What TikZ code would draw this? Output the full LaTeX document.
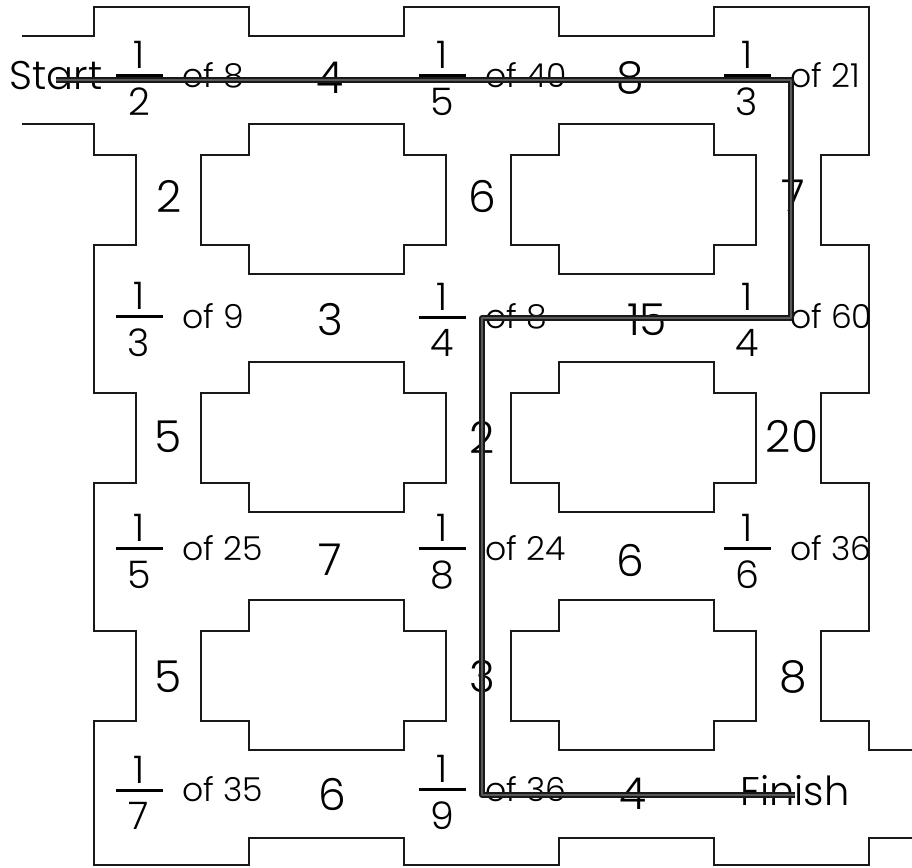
\documentclass[tikz,border=0pt]{standalone}
\usepackage{fontspec}
\setmainfont{Poppins}[UprightFont=* Light]
\usetikzlibrary{positioning}

\newcommand{\frc}[2]{\vbox{\hbox to 47pt{\hss#1\hss}\kern5.5pt\hrule height 3pt\kern10.5pt\hbox to 47pt{\hss#2\hss}}}

\begin{document}
\begin{tikzpicture}[x=1pt,y=-1pt,
    wall/.style={draw=black!90,line width=2pt},
    route/.style={draw=black!90,line width=2pt,double=black!65,double distance=1.2pt,line join=round},
    num/.style={font=\fontsize{44}{48}\selectfont,inner sep=0pt},
    fr/.style={font=\fontsize{38}{40}\selectfont,inner sep=0pt},
    ofn/.style={font=\fontsize{33}{40}\selectfont,inner sep=0pt,anchor=base west},
    word/.style={font=\fontsize{40}{46}\selectfont,inner sep=0pt,anchor=base}]
    \useasboundingbox[fill=white] (0,0) rectangle (912,867);

    \foreach \X in {249,559}
        \foreach \Y in {124,362,600}
            \draw[wall] (\X,\Y) -- ++(155,0) -- ++(0,31) -- ++(42,0) -- ++(0,90) -- ++(-42,0) -- ++(0,29)
                -- ++(-155,0) -- ++(0,-29) -- ++(-48,0) -- ++(0,-90) -- ++(48,0) -- cycle;

    \draw[wall] (22,36) -- (94,36) -- (94,7) -- (249,7) -- (249,36) -- (404,36) -- (404,7) -- (559,7)
        -- (559,36) -- (714,36) -- (714,7) -- (869,7) -- (869,155) -- (821,155) -- (821,245) -- (869,245)
        -- (869,393) -- (821,393) -- (821,483) -- (869,483) -- (869,631) -- (821,631) -- (821,721)
        -- (869,721) -- (869,750) -- (912,750);
    \draw[wall] (22,124) -- (94,124) -- (94,155) -- (136,155) -- (136,245) -- (94,245) -- (94,393)
        -- (136,393) -- (136,483) -- (94,483) -- (94,631) -- (136,631) -- (136,721) -- (94,721)
        -- (94,865) -- (249,865) -- (249,838) -- (404,838) -- (404,865) -- (559,865) -- (559,838)
        -- (714,838) -- (714,865) -- (869,865) -- (869,838) -- (912,838);

    \node[word] (start) at (56,89) {Start};
    \node[word] (finish) at (795,805) {Finish};

    \foreach \x/\y/\n/\d/\o [count=\i] in {139/76/1/2/8, 442/76/1/5/40, 747/76/1/3/21,
        139/317/1/3/9, 442/317/1/4/8, 747/317/1/4/60,
        139/549/1/5/25, 442/549/1/8/24, 747/549/1/6/36,
        139/790/1/7/35, 442/790/1/9/36}
    {
        \node[fr] (frac\i) at ({\x},{\y+2.5}) {\frc{\n}{\d}};
        \node[ofn] (of\i) at ({\x+43},{\y+11}) {of \o};
    }

    \foreach \x/\y/\v [count=\i] in {330/78/4, 630/78/8,
        169/196/2, 482/196/6, 793/196/7,
        330/320/3, 647/320/15,
        168/437/5, 482/437/2, 792/437/20,
        330/560/7, 630/560/6,
        168/677/5, 482/677/3, 793/677/8,
        332/794/6, 633/794/4}
        \node[num] (n\i) at (\x,\y) {\v};

    \coordinate (t1) at (791,80);
    \coordinate (t2) at (791,318);
    \coordinate (t3) at (482,318);
    \coordinate (t4) at (482,795);
    \draw[route] (start.center |- t1) -- (t1) -- (t2) -- (t3) -- (t4) -- (t4 -| finish.center);
\end{tikzpicture}
\end{document}
